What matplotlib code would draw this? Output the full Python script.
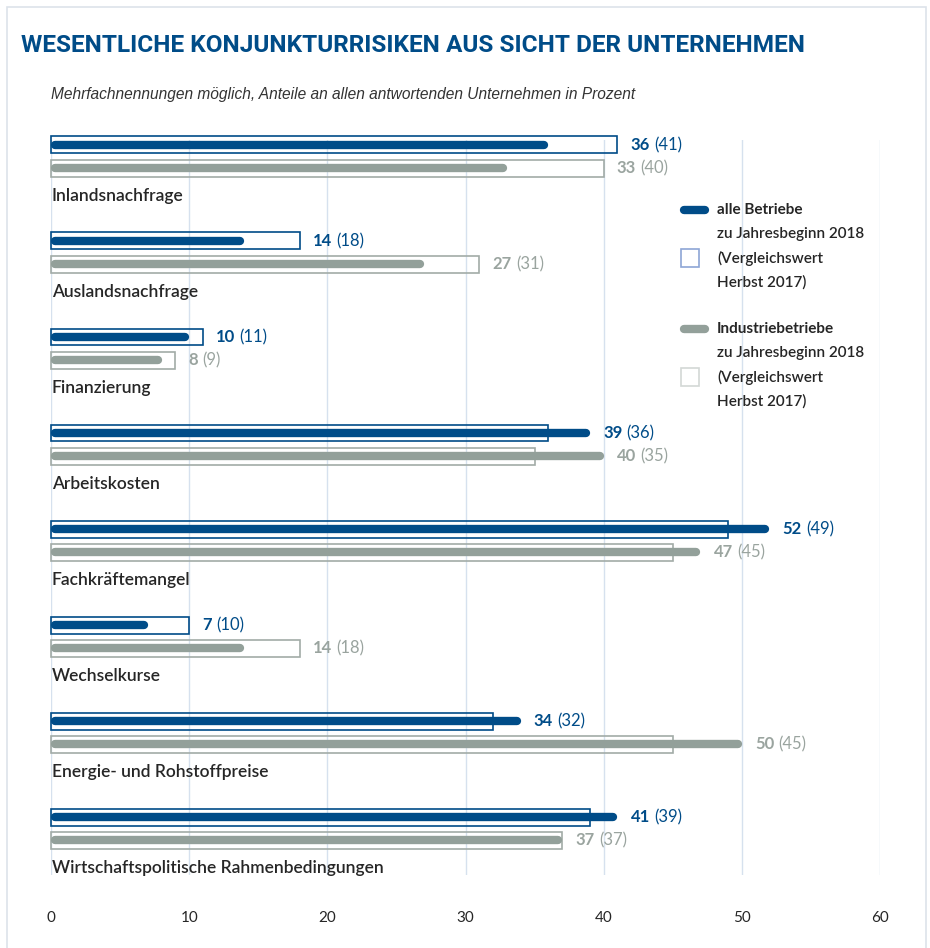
#!/usr/bin/env python3
"""Konjunkturrisiken aus Sicht der Unternehmen - Balkendiagramm."""

import matplotlib
matplotlib.use("Agg")
import matplotlib.pyplot as plt
from matplotlib.patches import Rectangle
from matplotlib.lines import Line2D

# Daten (Anteile in Prozent)
categories = [
    "Inlandsnachfrage",
    "Auslandsnachfrage",
    "Finanzierung",
    "Arbeitskosten",
    "Fachkräftemangel",
    "Wechselkurse",
    "Energie- und Rohstoffpreise",
    "Wirtschaftspolitische Rahmenbedingungen",
]
alle_2018 = [36, 14, 10, 39, 52, 7, 34, 41]
alle_herbst17 = [41, 18, 11, 36, 49, 10, 32, 39]
ind_2018 = [33, 27, 8, 40, 47, 14, 50, 37]
ind_herbst17 = [40, 31, 9, 35, 45, 18, 45, 37]
x_ticks = [0, 10, 20, 30, 40, 50, 60]

BLUE = "#004c88"
BLUE_LIGHT = "#8ea6d6"
GRAY = "#93a09a"
GRAY_TEXT = "#9aa49f"
GRAY_BOX = "#a2aba7"
GRAY_LIGHT = "#d3d8d6"
GRID = "#d6e1ee"
DARK = "#262626"

plt.rcParams["font.family"] = ["Lato", "DejaVu Sans"]

W, H = 930, 948
fig = plt.figure(figsize=(W / 100, H / 100), dpi=100)


def fx(px):
    return px / W


def fy(py):
    return 1 - py / H


# Rahmen
fig.patches.append(Rectangle((fx(7), -0.01), fx(919), fy(7) + 0.01,
                             transform=fig.transFigure, fill=False,
                             edgecolor="#dde3ea", linewidth=1.2))

fig.text(fx(21), fy(45), "WESENTLICHE KONJUNKTURRISIKEN AUS SICHT DER UNTERNEHMEN",
         color=BLUE, fontsize=17.6, fontweight="bold", va="center",
         family=["Roboto", "DejaVu Sans"])
fig.text(fx(51), fy(95), "Mehrfachnennungen möglich, Anteile an allen antwortenden Unternehmen in Prozent",
         color="#333333", fontsize=11.2, style="italic", va="center",
         family=["Liberation Sans", "DejaVu Sans"])

ax = fig.add_axes([fx(51), fy(875), fx(880 - 51), (875 - 140) / H])
ax.set_xlim(0, 60)
ax.set_ylim(7.604, -0.052)
for s in ax.spines.values():
    s.set_visible(False)
ax.set_yticks([])
ax.set_xticks(x_ticks)
ax.tick_params(axis="x", length=0, pad=26, labelsize=11, labelcolor=DARK)
ax.grid(axis="x", color=GRID, linewidth=1)
ax.set_axisbelow(True)

row_gap = 0.24
box_h = 0.177
lw = 6.0
cap = 0.29

for i, cat in enumerate(categories):
    rows = [
        (i, alle_2018[i], alle_herbst17[i], BLUE, BLUE, BLUE),
        (i + row_gap, ind_2018[i], ind_herbst17[i], GRAY, GRAY_BOX, GRAY_TEXT),
    ]
    for y, cur, prev, lc, bc, tc in rows:
        ax.add_patch(Rectangle((0, y - box_h / 2), prev, box_h, fill=False,
                               edgecolor=bc, linewidth=1.2, zorder=3,
                               clip_on=False))
        ax.plot([cap, cur - cap], [y, y], color=lc, linewidth=lw,
                solid_capstyle="round", zorder=4, clip_on=False)
        t = ax.text(max(cur, prev) + 0.95, y, str(cur), color=tc, fontsize=12,
                    fontweight="bold", va="center", ha="left")
        ax.annotate(f"({prev})", xy=(1, 0), xycoords=t, xytext=(3, 0),
                    textcoords="offset points", color=tc, fontsize=12,
                    va="bottom", ha="left")
    ax.text(0.05, i + 0.53, cat, color=DARK, fontsize=12.5, fontweight="semibold",
            va="center", ha="left")

# Legende
legend_rows = [
    (210, BLUE, BLUE_LIGHT, "alle Betriebe"),
    (329, GRAY, GRAY_LIGHT, "Industriebetriebe"),
]
for y0, lc, sc, name in legend_rows:
    fig.add_artist(Line2D([fx(684), fx(705)], [fy(y0), fy(y0)], color=lc,
                          linewidth=6, solid_capstyle="round"))
    fig.patches.append(Rectangle((fx(681), fy(y0 + 57)), fx(18), 18 / H,
                                 transform=fig.transFigure, fill=False,
                                 edgecolor=sc, linewidth=1.2))
    fig.text(fx(717), fy(y0), name, color=DARK, fontsize=11, fontweight="bold", va="center")
    for k, line in enumerate(["zu Jahresbeginn 2018", "(Vergleichswert", "Herbst 2017)"]):
        fig.text(fx(717), fy(y0 + 24 * (k + 1)), line, color=DARK, fontsize=11,
                 fontweight="semibold", va="center")

fig.savefig("out.png", dpi=100)
